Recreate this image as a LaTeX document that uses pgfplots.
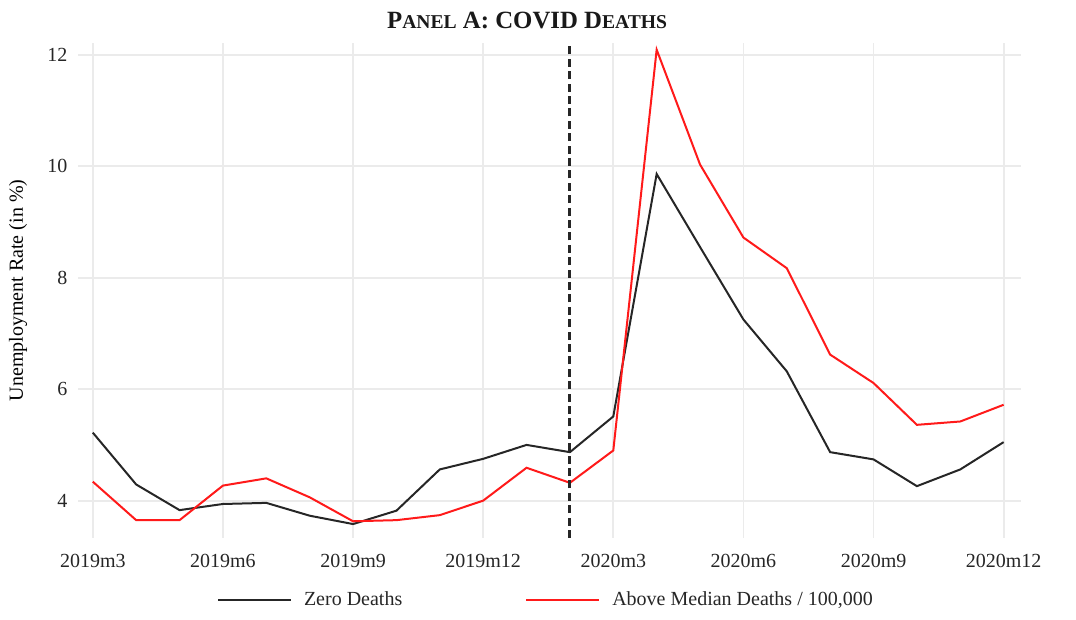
\documentclass[border=0pt]{standalone}
\usepackage{pgfplots}
\pgfplotsset{compat=1.18}
\usepackage{fontspec}
\setmainfont{Liberation Serif}

\definecolor{gridgray}{HTML}{EBEBEB}
\definecolor{darkline}{HTML}{262626}
\definecolor{redline}{HTML}{FF1A1A}

% monthly unemployment rates, 2019m3 (index 0) to 2020m12 (index 21)
\pgfplotstableread{
m   zero   above
0   5.22   4.34
1   4.29   3.65
2   3.83   3.65
3   3.94   4.27
4   3.96   4.40
5   3.73   4.06
6   3.58   3.63
7   3.82   3.65
8   4.56   3.74
9   4.75   4.00
10  5.00   4.59
11  4.87   4.32
12  5.51   4.90
13  9.86   12.09
14  8.55   10.03
15  7.25   8.72
16  6.32   8.17
17  4.87   6.62
18  4.74   6.11
19  4.26   5.36
20  4.56   5.42
21  5.05   5.72
}\unemp

\begin{document}
\begin{tikzpicture}
\path[use as bounding box] (-39.25pt,-41pt) rectangle (498.75pt,269pt);
\begin{axis}[
  at={(0,0)}, anchor=south west,
  scale only axis,
  width=471.25pt, height=247.5pt,
  xmin=-0.33, xmax=21.4,
  ymin=3.33, ymax=12.21,
  axis line style={draw=none},
  major tick length=0pt,
  grid=major,
  major grid style={gridgray, line width=0.9pt},
  xtick={0,3,...,21},
  xticklabels={2019m3,2019m6,2019m9,2019m12,2020m3,2020m6,2020m9,2020m12},
  ytick={4,6,8,10,12},
  /pgf/number format/assume math mode=true,
  tick label style={font=\fontsize{10}{12}\selectfont, text=black!85},
  xticklabel style={yshift=-4.5pt},
  yticklabel style={xshift=-2pt},
  ylabel={Unemployment Rate (in \%)},
  ylabel style={font=\fontsize{10.5}{12}\selectfont, text=black!85},
  every axis y label/.style={at={(axis description cs:-0.0642,0.5)}, rotate=90, anchor=center},
  legend columns=2,
  legend style={at={(axis description cs:0.497,-0.1253)}, anchor=center, draw=none, fill=none,
    font=\fontsize{10}{12}\selectfont, text=black!85,
    /tikz/every odd column/.append style={column sep=4pt},
    /tikz/every even column/.append style={column sep=59.5pt}},
  legend image code/.code={\draw[#1] (0pt,0pt) -- (36.5pt,0pt);},
  clip=false,
]
\addplot[darkline, line width=1pt] table[x=m, y=zero] {\unemp};
\addlegendentry{Zero Deaths}
\addplot[redline, line width=1pt] table[x=m, y=above] {\unemp};
\addlegendentry{Above Median Deaths / 100,000}
% 2020m2 marker
\addplot[darkline, line width=1.5pt, dash pattern=on 4pt off 2.2pt, forget plot]
  coordinates {(11,3.33) (11,12.21)};
\node[font=\fontsize{12.4}{14}\selectfont\bfseries, text=black!90, anchor=center]
  at (rel axis cs:0.476,1) [yshift=11.5pt]
  {P{\fontsize{9.8}{11}\selectfont ANEL} A: COVID D{\fontsize{9.8}{11}\selectfont EATHS}};
\end{axis}
\end{tikzpicture}
\end{document}
